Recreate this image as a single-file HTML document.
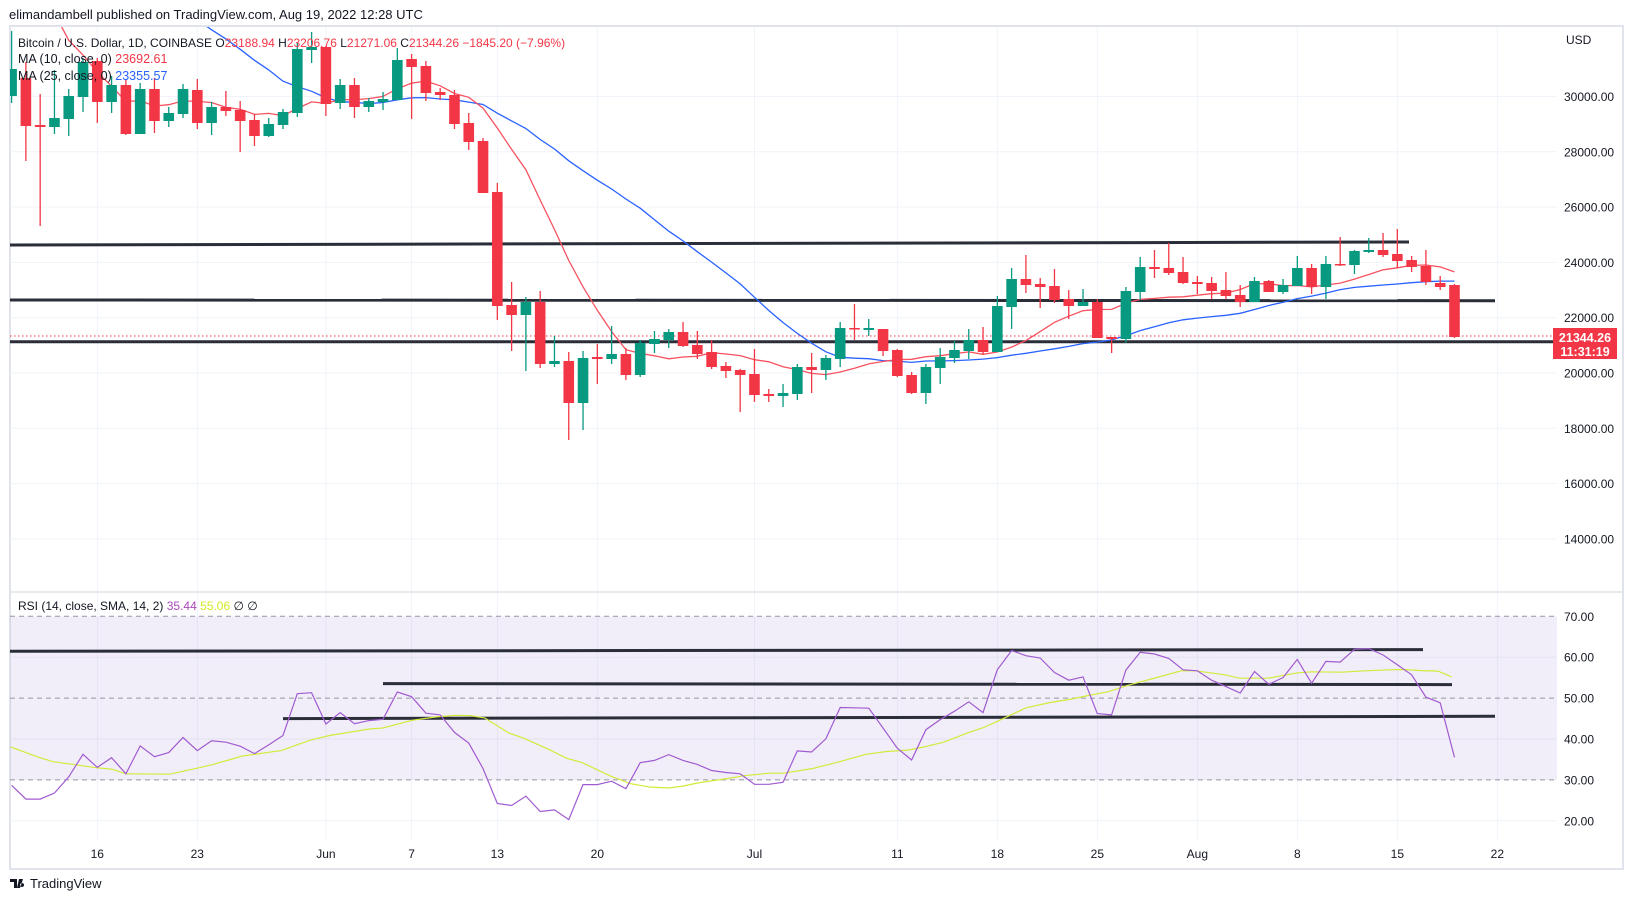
<!DOCTYPE html>
<html><head><meta charset="utf-8">
<style>
html,body{margin:0;padding:0;background:#fff;}
body{width:1633px;height:901px;overflow:hidden;font-family:"Liberation Sans",sans-serif;}
svg text{font-family:"Liberation Sans",sans-serif;}
</style></head>
<body>
<svg id="s" width="1633" height="901" viewBox="0 0 1633 901" xmlns="http://www.w3.org/2000/svg">
<rect x="0" y="0" width="1633" height="901" fill="#fff"/>
<text x="9" y="19" font-size="13" fill="#131722">elimandambell published on TradingView.com, Aug 19, 2022 12:28 UTC</text>
<rect x="10" y="26" width="1613" height="843" fill="#fff" stroke="#e0e3eb" stroke-width="2"/>
<defs><clipPath id="cm"><rect x="10" y="27" width="1547" height="565"/></clipPath>
<clipPath id="cr"><rect x="10" y="593" width="1547" height="275"/></clipPath></defs>
<g id="grid"></g>
<rect x="10" y="616.3" width="1547" height="163.7" fill="#7e57c2" fill-opacity="0.1"/>
<g id="rsig"></g>
<g id="main" clip-path="url(#cm)"></g>
<g id="rsi" clip-path="url(#cr)"></g>
<line x1="10" y1="592" x2="1623" y2="592" stroke="#e0e3eb" stroke-width="1.5"/>
<g id="axis"></g>
<text x="18" y="47" font-size="12" fill="#131722">Bitcoin / U.S. Dollar, 1D, COINBASE  <tspan>O</tspan><tspan fill="#f23645">23188.94</tspan>  H<tspan fill="#f23645">23206.76</tspan>  L<tspan fill="#f23645">21271.06</tspan>  C<tspan fill="#f23645">21344.26  −1845.20 (−7.96%)</tspan></text>
<text x="18" y="63" font-size="12.5" fill="#131722">MA (10, close, 0)  <tspan fill="#f23645">23692.61</tspan></text>
<text x="18" y="80" font-size="12.5" fill="#131722">MA (25, close, 0)  <tspan fill="#2962ff">23355.57</tspan></text>
<text x="18" y="610" font-size="12" fill="#131722">RSI (14, close, SMA, 14, 2)  <tspan fill="#ab47bc">35.44</tspan>  <tspan fill="#d4e825">55.06</tspan>  ∅  ∅</text>
<rect x="1553" y="328" width="64" height="31" fill="#f23645"/>
<text x="1585" y="342" font-size="12.5" font-weight="bold" fill="#fff" text-anchor="middle">21344.26</text>
<text x="1585" y="356" font-size="12.5" font-weight="bold" fill="#fff" text-anchor="middle">11:31:19</text>
<g transform="translate(10,876)">
<path d="M0 3h7v9h-3v-6h-4z M9 3h4l-3 9h-3z M12 7a2 2 0 1 0 0.1 0z" fill="#131722"/>
<text x="20" y="12" font-size="13" fill="#131722">TradingView</text>
</g>
</svg>
<script>
const NS="http://www.w3.org/2000/svg";
function el(p,t,a){const e=document.createElementNS(NS,t);for(const k in a)e.setAttribute(k,a[k]);p.appendChild(e);return e;}
const G=id=>document.getElementById(id);
const X=d=>11.6+d*14.286;
const PY=p=>373-(p-20000)*0.02765;
const RY=v=>616.3+(70-v)*4.09;
const g=G('grid'), ax=G('axis');
for(let p=14000;p<=30000;p+=2000){const y=PY(p);el(g,'line',{x1:10,x2:1557,y1:y,y2:y,stroke:'#f0f3fa'});
 const t=el(ax,'text',{x:1564,y:y+4.5,'font-size':12,fill:'#131722'});t.textContent=p+'.00';}
const tu=el(ax,'text',{x:1566,y:44,'font-size':12,fill:'#131722'});tu.textContent='USD';
[60,40,20].forEach(v=>el(g,'line',{x1:10,x2:1557,y1:RY(v),y2:RY(v),stroke:'#f0f3fa'}));
for(let v=20;v<=70;v+=10){const t=el(ax,'text',{x:1564,y:RY(v)+4.5,'font-size':12,fill:'#131722'});t.textContent=v+'.00';}
const labs=[[6,'16'],[13,'23'],[22,'Jun'],[28,'7'],[34,'13'],[41,'20'],[52,'Jul'],[62,'11'],[69,'18'],[76,'25'],[83,'Aug'],[90,'8'],[97,'15'],[104,'22']];
labs.forEach(([d,s])=>{const x=X(d);el(g,'line',{x1:x,x2:x,y1:27,y2:840,stroke:'#f0f3fa'});
 const t=el(ax,'text',{x:x,y:858,'font-size':12,fill:'#131722','text-anchor':'middle'});t.textContent=s;});
const rg=G('rsig');
[70,50,30].forEach(v=>el(rg,'line',{x1:10,x2:1557,y1:RY(v),y2:RY(v),stroke:'#9598a1','stroke-dasharray':'5,4'}));
const C=[[96,69,31,103],[78,126,62,161],[125,127,94,226],[127,118,70,134],[119,96,89,136],[97,62,58,112],[61,102,58,123],[102,85,76,113],[85,134,79,135],[134,89,83,134],
[89,121,78,133],[121,113,107,127],[114,89,84,118],[90,123,79,129],[123,107,102,135],[107,111,91,116],[110,121,101,152],[120,136,114,146],[136,124,118,137],[125,112,109,129],
[113,49,43,117],[50,47,32,63],[47,104,46,116],[103,85,79,109],[85,107,78,118],[107,101,98,112],[102,99,92,110],[100,60,48,100],[59,67,54,119],[66,93,61,101],
[92,95,88,100],[95,124,90,129],[123,142,113,150],[141,193,138,193],[192,306,183,320],[305,315,282,351],[315,302,297,371],[302,364,291,368],[364,361,336,367],[361,403,352,440],
[403,358,351,430],[357,359,344,384],[359,354,326,364],[354,375,348,380],[375,343,340,377],[344,339,331,353],[340,332,329,348],[332,346,322,347],[345,354,331,359],[352,367,340,369],
[366,371,362,378],[370,375,369,412],[374,395,349,402],[394,396,389,402],[396,393,384,407],[394,367,364,400],[367,370,353,393],[370,358,355,380],[359,328,322,367],[328,329,304,340],
[330,328,319,336],[329,351,329,356],[350,376,349,377],[375,393,372,394],[393,367,364,404],[368,357,348,384],[358,350,341,363],[351,340,329,359],[340,352,327,355],[352,306,296,352],
[307,279,268,329],[279,285,255,293],[284,287,278,308],[286,300,269,303],[299,306,290,319],[306,302,289,306],[302,338,299,338],[337,339,337,353],[339,291,287,343],[292,267,257,300],
[267,269,250,278],[268,273,243,275],[272,283,257,284],[282,284,276,294],[283,291,277,299],[290,296,272,299],[295,302,285,307],[302,281,277,302],[281,292,280,292],[292,285,279,294],
[286,268,256,286],[268,287,264,294],[287,264,256,299],[264,265,237,266],[265,251,250,274],[252,250,238,253],[250,255,233,257],[254,261,229,268],[260,267,256,272],[266,282,250,285],
[283,287,276,290],[285,337,284,338]];
const m=G('main');
el(m,'line',{x1:10,y1:245,x2:1409,y2:242,stroke:'#2a2e39','stroke-width':3});
el(m,'line',{x1:10,y1:300,x2:1495,y2:300.7,stroke:'#2a2e39','stroke-width':3});
el(m,'line',{x1:10,y1:341.7,x2:1557,y2:341.7,stroke:'#2a2e39','stroke-width':3});
el(m,'line',{x1:10,y1:336,x2:1557,y2:336,stroke:'#f23645','stroke-dasharray':'1.5,2.5'});
const pre=[40500,40400,39700,40800,41500,41400,40500,39700,39500,39400,40400,38100,39200,39700,38600,37700,38500,38500,37700,39700,36600,36000,35500,34100,30100].map(PY);
const closes=pre.concat(C.map(c=>c[1]));const off=pre.length;
function ma(n,col){let pts=[];for(let d=0;d<C.length;d++){let s=0;for(let k=0;k<n;k++)s+=closes[off+d-k];pts.push(X(d).toFixed(1)+','+(s/n).toFixed(1));}
 el(m,'polyline',{points:pts.join(' '),fill:'none',stroke:col,'stroke-width':1.3});}
ma(25,'#2962ff');ma(10,'#f7525f');
C.forEach((c,d)=>{const [o,cl,h,l]=c;const up=cl<o;const col=up?'#089981':'#f23645';const x=X(d);
 el(m,'line',{x1:x,x2:x,y1:h,y2:l,stroke:col,'stroke-width':1.3});
 const t=Math.min(o,cl),b=Math.max(o,cl);el(m,'rect',{x:x-5.3,y:t,width:10.6,height:Math.max(b-t,1.5),fill:col});});
const r=G('rsi');
el(r,'line',{x1:10,y1:651.3,x2:1423,y2:649.6,stroke:'#2a2e39','stroke-width':3});
el(r,'line',{x1:383,y1:683.6,x2:1452,y2:684.6,stroke:'#2a2e39','stroke-width':3});
el(r,'line',{x1:283,y1:718.6,x2:1495,y2:716.3,stroke:'#2a2e39','stroke-width':3});
const Z6=[[22,466],[80,497],[110,510],[200,528],[230,532],[260,546],[350,547],[410,528],[440,518],[500,493],[580,477],[640,446],[680,432],[760,413],[790,410],[850,387],[900,377],[940,372],[970,373],[1000,380],[1050,425],[1080,440],[1130,472],[1170,500],[1200,512],[1260,553],[1300,575],[1340,585],[1380,588],[1410,582],[1440,573],[1500,560],[1530,553]];
const Z7=[[0,553],[60,544],[90,544],[150,530],[200,512],[260,488],[300,480],[350,475],[380,466],[420,452],[470,424],[500,410],[530,391],[590,350],[640,334],[680,325],[720,313],[760,302],[800,283],[860,260],[910,240],[940,240],[1000,252],[1030,262],[1090,262],[1150,246],[1180,243],[1240,244],[1290,240],[1340,237],[1370,236],[1400,239],[1440,241],[1468,258]];
let sp=Z6.map(p=>[p[0]/2.063,590+p[1]/2.97]).concat(Z7.map(p=>[740+p[0]/2.063,590+p[1]/2.97]));
el(r,'polyline',{points:sp.map(p=>p[0].toFixed(1)+','+p[1].toFixed(1)).join(' '),fill:'none',stroke:'#d4ea3a','stroke-width':1.2});
const R6=[580,621,621,603,555,488,527,498,546,463,495,483,438,477,448,452,464,486,460,432,308,305,398,364,397,388,384,303,317,366,371,423,455,530,634,640,612,658,653,682,578,578,568,590,513,506,489,506,518,536,542,546];
const R7=[577,577,571,478,481,442,349,350,351,410,470,505,415,385,360,332,364,237,180,195,202,245,268,258,367,371,238,185,190,203,237,240,268,287,306,242,280,260,206,277,212,214,176,174,193,222,252,318,335,497];
let rp=[];R6.forEach((v,d)=>rp.push([X(d),590+v/2.97]));R7.forEach((v,i)=>rp.push([X(52+i),590+v/2.97]));
el(r,'polyline',{points:rp.map(p=>p[0].toFixed(1)+','+p[1].toFixed(1)).join(' '),fill:'none',stroke:'#a05bd0','stroke-width':1.2});
</script>
</body></html>
